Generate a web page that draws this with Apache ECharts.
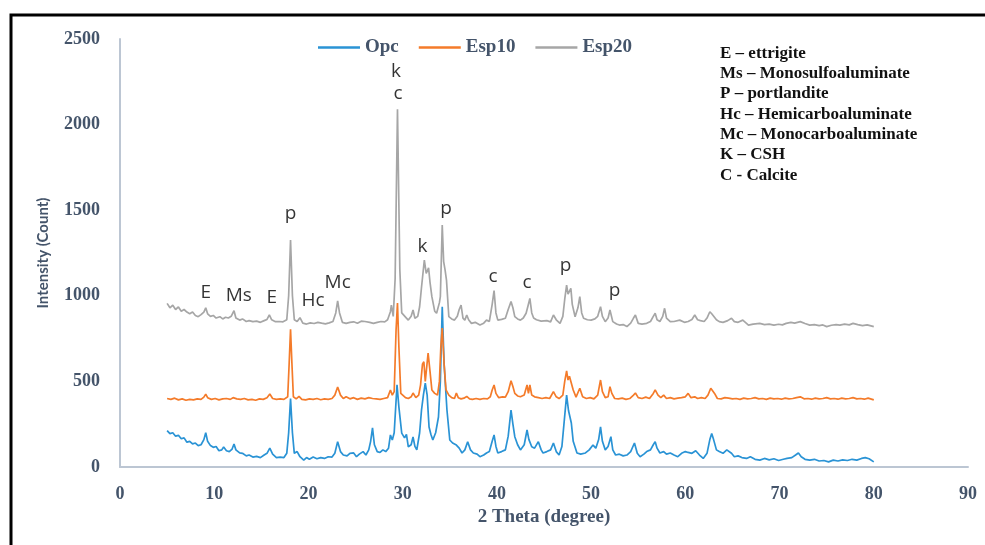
<!DOCTYPE html>
<html>
<head>
<meta charset="utf-8">
<script src="https://cdn.jsdelivr.net/npm/echarts@6/dist/echarts.min.js"></script>
<style>html,body{margin:0;padding:0;background:#fff}#c{width:985px;height:545px}</style>
</head>
<body>
<div id="c"></div>
<script>
// ---- data (2θ in degrees, intensity in counts) ----
const seriesNames = ['Opc', 'Esp10', 'Esp20'];
const opcX = [5.0,5.3,5.6,5.9,6.2,6.5,6.8,7.1,7.4,7.7,8.0,8.3,8.6,8.9,9.1,9.3,9.6,9.9,10.2,10.5,10.8,11.0,11.3,11.6,11.9,12.1,12.3,12.7,13.0,13.4,13.7,14.1,14.5,14.9,15.3,15.6,15.9,16.2,16.6,17.0,17.4,17.7,17.9,18.1,18.3,18.5,18.8,19.1,19.5,19.8,20.1,20.5,20.9,21.3,21.7,22.1,22.5,22.8,23.1,23.4,23.7,24.1,24.4,24.8,25.1,25.4,25.8,26.1,26.4,26.6,26.8,27.0,27.3,27.6,27.9,28.2,28.5,28.7,28.9,29.1,29.4,29.6,29.9,30.2,30.4,30.6,30.9,31.1,31.3,31.5,31.8,32.0,32.2,32.4,32.6,32.8,33.0,33.2,33.5,33.8,34.0,34.2,34.4,34.7,35.0,35.3,35.7,36.0,36.3,36.6,36.9,37.2,37.5,37.9,38.2,38.6,38.9,39.2,39.5,39.7,39.9,40.1,40.5,40.9,41.2,41.5,41.7,41.9,42.2,42.5,42.9,43.2,43.4,43.7,44.0,44.4,44.7,44.9,45.3,45.7,46.0,46.3,46.6,46.9,47.2,47.4,47.6,47.9,48.1,48.5,48.9,49.4,49.8,50.2,50.5,50.8,51.0,51.2,51.5,51.8,52.1,52.3,52.6,53.0,53.4,53.8,54.2,54.6,54.9,55.2,55.6,55.9,56.3,56.6,56.8,57.0,57.3,57.7,58.0,58.4,58.8,59.2,59.6,60.0,60.3,60.7,61.1,61.5,61.9,62.3,62.6,62.8,63.0,63.3,63.6,64.0,64.4,64.6,64.9,65.2,65.6,66.0,66.5,66.9,67.4,67.9,68.4,68.9,69.4,69.9,70.4,70.8,71.3,71.7,72.0,72.3,72.7,73.2,73.7,74.2,74.7,75.2,75.7,76.2,76.7,77.2,77.7,78.2,78.7,79.1,79.5,80.0];
const opcY = [212,195,200,180,185,165,170,145,150,135,140,125,130,160,200,150,125,115,120,95,100,117,95,90,105,134,100,82,80,65,70,58,62,55,70,80,110,75,55,58,55,80,200,400,200,80,90,60,40,55,45,58,48,55,50,60,58,80,148,90,70,65,80,82,60,75,90,70,100,150,228,130,90,85,100,90,110,187,158,200,480,350,198,170,190,118,130,175,120,100,200,333,420,490,420,234,190,158,200,292,500,936,600,333,158,140,128,110,82,100,148,100,82,75,60,70,82,90,150,187,120,82,90,100,180,333,250,177,130,100,130,216,160,118,110,148,100,82,90,100,140,90,70,120,300,420,330,257,150,82,75,82,100,128,110,160,235,150,100,120,177,100,70,75,65,70,90,140,80,60,75,90,100,130,148,110,82,90,75,82,70,60,80,90,85,80,95,70,50,80,160,195,160,100,90,80,100,110,80,60,65,55,50,60,45,40,50,42,48,38,45,50,55,70,82,60,45,40,45,35,38,30,40,35,42,38,45,40,50,55,48,30];

const esp10X = [5.0,5.4,5.8,6.2,6.6,7.0,7.4,7.8,8.2,8.6,8.9,9.1,9.3,9.7,10.1,10.5,10.9,11.3,11.7,12.0,12.2,12.4,12.8,13.2,13.6,14.0,14.4,14.8,15.2,15.6,15.9,16.2,16.6,17.0,17.4,17.8,17.95,18.1,18.25,18.4,18.7,19.0,19.3,19.7,20.1,20.5,20.9,21.3,21.7,22.1,22.5,22.8,23.1,23.4,23.7,24.0,24.4,24.8,25.2,25.6,26.0,26.4,26.8,27.2,27.6,28.0,28.4,28.7,28.9,29.1,29.3,29.45,29.6,29.8,30.0,30.3,30.6,30.9,31.1,31.4,31.7,31.9,32.1,32.25,32.4,32.5,32.7,32.9,33.1,33.4,33.7,33.9,34.05,34.2,34.4,34.6,34.9,35.2,35.5,35.7,35.9,36.2,36.5,36.8,37.1,37.4,37.8,38.2,38.6,39.0,39.3,39.5,39.7,39.9,40.2,40.6,40.9,41.2,41.5,41.7,41.9,42.2,42.5,42.9,43.2,43.35,43.5,43.7,44.0,44.4,44.8,45.2,45.6,46.0,46.3,46.6,47.0,47.2,47.4,47.55,47.7,47.9,48.1,48.4,48.8,49.1,49.5,49.9,50.3,50.7,50.9,51.0,51.2,51.5,51.8,52.0,52.2,52.5,52.9,53.3,53.7,54.1,54.5,54.7,55.0,55.4,55.8,56.2,56.6,56.8,57.1,57.4,57.7,58.0,58.4,58.8,59.2,59.6,60.0,60.3,60.6,61.0,61.3,61.7,62.1,62.4,62.7,62.9,63.1,63.4,63.8,64.2,64.6,65.0,65.4,65.8,66.2,66.6,67.0,67.4,67.8,68.2,68.6,69.0,69.4,69.8,70.2,70.6,71.0,71.4,71.8,72.2,72.6,73.0,73.4,73.8,74.2,74.6,75.0,75.4,75.8,76.2,76.6,77.0,77.4,77.8,78.2,78.6,79.0,79.4,80.0];
const esp10Y = [400,395,402,392,398,390,395,392,398,395,408,426,405,395,400,392,398,400,395,405,415,398,395,400,392,395,390,398,395,405,426,400,395,398,395,410,600,804,600,410,398,412,395,392,398,395,400,393,398,395,400,420,467,420,400,410,398,405,395,402,398,405,400,398,395,400,405,450,420,440,800,958,700,430,432,405,400,410,432,405,420,480,600,615,500,490,666,560,450,430,420,500,700,812,600,450,420,405,400,432,405,398,402,412,398,395,400,395,400,398,410,450,479,430,405,410,408,440,504,470,430,415,410,420,479,430,479,420,410,405,400,405,400,440,410,400,420,500,562,508,530,520,450,408,460,410,400,405,398,420,480,508,440,405,410,469,430,400,398,402,395,400,420,432,405,400,408,400,430,450,420,405,420,400,405,398,402,405,410,430,405,410,400,405,400,420,460,469,430,400,398,405,402,398,400,395,402,398,400,405,398,400,395,402,398,400,396,402,398,400,405,410,398,400,396,402,398,400,405,398,400,396,402,398,400,405,398,400,396,402,392];

const esp20X = [5.0,5.3,5.6,5.9,6.2,6.5,6.8,7.1,7.4,7.7,8.0,8.3,8.6,8.9,9.1,9.3,9.6,9.9,10.2,10.6,10.9,11.2,11.5,11.8,12.1,12.3,12.7,13.0,13.4,13.7,14.1,14.5,14.9,15.3,15.6,15.85,16.1,16.5,16.9,17.3,17.7,17.9,18.1,18.3,18.5,18.8,19.1,19.4,19.8,20.2,20.6,21.0,21.4,21.8,22.2,22.6,22.9,23.1,23.3,23.6,24.0,24.4,24.8,25.2,25.6,26.0,26.2,26.5,26.9,27.3,27.7,28.1,28.4,28.7,28.8,29.0,29.2,29.45,29.7,29.9,30.1,30.4,30.6,30.9,31.1,31.3,31.6,31.8,32.0,32.3,32.5,32.75,32.9,33.1,33.4,33.6,33.9,34.0,34.2,34.35,34.5,34.65,34.9,35.2,35.5,35.8,36.0,36.2,36.4,36.6,36.8,37.0,37.3,37.7,38.2,38.6,38.9,39.2,39.5,39.7,39.9,40.1,40.5,40.9,41.2,41.5,41.7,41.9,42.2,42.5,42.8,43.1,43.3,43.5,43.7,43.9,44.2,44.4,44.7,44.9,45.3,45.7,46.0,46.3,46.7,47.0,47.2,47.4,47.55,47.65,47.85,48.0,48.3,48.6,48.8,49.0,49.2,49.6,50.0,50.4,50.7,51.0,51.2,51.5,51.8,52.0,52.3,52.7,53.0,53.4,53.8,54.2,54.5,54.7,55.0,55.4,55.9,56.3,56.6,56.8,57.0,57.3,57.6,57.8,58.0,58.4,58.8,59.4,59.9,60.3,60.7,61.0,61.3,61.6,62.0,62.3,62.6,62.8,63.0,63.3,63.6,64.0,64.5,64.9,65.2,65.6,66.1,66.7,67.2,67.9,68.4,68.9,69.4,69.9,70.3,70.7,71.2,71.6,72.2,72.7,73.2,73.7,74.2,74.6,75.0,75.5,76.0,76.4,76.9,77.4,77.8,78.3,78.8,79.3,79.6,80.0];
const esp20Y = [956,930,945,920,935,910,920,905,895,905,885,878,890,905,930,895,880,885,870,878,865,875,870,880,913,870,858,865,850,855,849,852,845,855,862,888,860,849,850,848,860,1000,1326,1000,860,850,872,840,835,842,838,845,840,836,842,850,900,970,900,845,839,845,848,840,852,850,858,845,839,845,850,848,860,907,946,880,1100,2090,1150,900,898,870,858,880,917,869,880,936,1050,1209,1131,1164,1080,995,910,898,960,995,1414,1200,1151,1092,878,865,858,880,920,946,870,858,888,860,839,845,829,840,858,850,950,1030,900,858,862,869,920,966,930,878,865,858,870,898,940,985,900,870,860,869,852,849,855,848,888,860,839,880,980,1063,1010,1014,1044,950,878,930,995,900,869,860,858,865,880,936,880,849,870,917,849,835,829,832,820,840,870,888,839,835,839,850,880,898,860,850,880,927,870,849,850,858,845,850,862,888,860,855,850,870,907,895,888,860,849,845,855,869,849,845,858,829,835,839,832,835,829,834,830,839,845,840,849,838,829,832,826,830,820,828,832,829,835,830,839,832,826,830,826,820];

// peak annotations
const annoText = ['E', 'Ms', 'E', 'p', 'Hc', 'Mc', 'k', 'c', 'k', 'p', 'c', 'c', 'p', 'p'];
const annoX = [9.1, 12.6, 16.1, 18.1, 20.5, 23.1, 29.3, 29.5, 32.1, 34.6, 39.6, 43.2, 47.3, 52.5];
const annoY = [1020, 1000, 990, 1480, 970, 1080, 2310, 2180, 1290, 1510, 1110, 1080, 1175, 1030];

// phase key
const keyLines = ['E \u2013 ettrigite', 'Ms \u2013 Monosulfoaluminate', 'P \u2013 portlandite',
  'Hc \u2013 Hemicarboaluminate', 'Mc \u2013 Monocarboaluminate', 'K \u2013 CSH', 'C - Calcite'];

const xTicks = {min: 0, max: 90, interval: 10};
const yTicks = {min: 0, max: 2500, interval: 500};

// ---- chart ----
const colors = ['#2a93d5', '#f47b2a', '#a6a6a6'];
const zip = (xs, ys) => xs.map((x, i) => [x, ys[i]]);
const seriesData = [zip(opcX, opcY), zip(esp10X, esp10Y), zip(esp20X, esp20Y)];

const serif = 'Liberation Serif';
const axisTxt = '#44546a';

const chart = echarts.init(document.getElementById('c'), null, {renderer: 'canvas'});
const option = {
  animation: false,
  backgroundColor: '#ffffff',
  color: colors,
  grid: {left: 120, right: 17, top: 39, bottom: 78, containLabel: false},
  legend: {
    data: seriesNames.map(n => ({name: n, icon: 'rect'})),
    left: 313, top: 33,
    itemWidth: 42, itemHeight: 2.5, itemGap: 20,
    textStyle: {fontFamily: serif, fontWeight: 'bold', fontSize: 19, color: axisTxt}
  },
  xAxis: {
    type: 'value', min: xTicks.min, max: xTicks.max, interval: xTicks.interval,
    axisLine: {show: true, lineStyle: {color: '#bcc6d3', width: 2}},
    axisTick: {show: false},
    splitLine: {show: false},
    axisLabel: {margin: 18, fontFamily: serif, fontWeight: 'bold', fontSize: 18, color: axisTxt,
      formatter: v => String(v)},
    name: '2 Theta (degree)', nameLocation: 'middle', nameGap: 41,
    nameTextStyle: {fontFamily: serif, fontWeight: 'bold', fontSize: 19, color: axisTxt}
  },
  yAxis: {
    type: 'value', min: yTicks.min, max: yTicks.max, interval: yTicks.interval,
    axisLine: {show: true, lineStyle: {color: '#bcc6d3', width: 2}},
    axisTick: {show: false},
    splitLine: {show: false},
    axisLabel: {margin: 20, fontFamily: serif, fontWeight: 'bold', fontSize: 18, color: axisTxt,
      formatter: v => String(v)},
    name: 'Intensity (Count)', nameLocation: 'middle', nameGap: 69,
    nameTextStyle: {fontFamily: 'Lato', fontWeight: 'bold', fontSize: 15, color: axisTxt}
  },
  series: seriesNames.map((n, i) => ({
    name: n, type: 'line', data: seriesData[i], symbol: 'none', showSymbol: false,
    lineStyle: {width: 1.7, color: colors[i]}, itemStyle: {color: colors[i]},
    z: 2 + i, silent: true
  })).concat([{
    name: 'labels', type: 'scatter', symbol: 'circle', symbolSize: 1, silent: true, z: 10,
    itemStyle: {color: 'rgba(0,0,0,0)'},
    data: annoText.map((t, i) => ({name: t, value: [annoX[i], annoY[i]]})),
    label: {show: true, position: 'inside', formatter: p => p.name,
      fontFamily: 'Open Sans', fontSize: 19, color: '#000'}
  }]),
  graphic: [
    {type: 'rect', shape: {x: 11, y: 15, width: 1100, height: 700}, silent: true,
     style: {fill: 'none', stroke: '#000', lineWidth: 3}},
  ].concat(keyLines.map((t, i) => ({
    type: 'text', left: 720, top: 45 + i * 20.3, silent: true,
    style: {text: t, font: 'bold 17px "Liberation Serif"', fill: '#111'}
  })))
};
chart.setOption(option);
</script>
</body>
</html>
